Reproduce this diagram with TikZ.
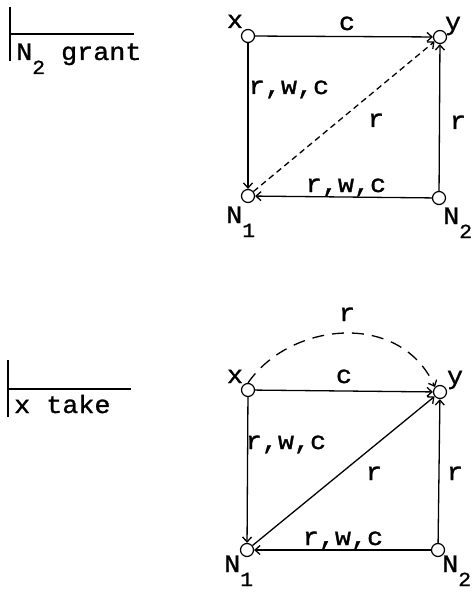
\documentclass[tikz,border=0pt]{standalone}
\usepackage{fontspec}
\newfontfamily\diagmono{Liberation Mono}[FakeBold=1.2, FakeStretch=1.07]
\usepackage{tikz}
\usetikzlibrary{arrows.meta}
\newcommand{\diagfont}{\diagmono\fontsize{25bp}{30bp}\selectfont}
\newcommand{\lowsub}[1]{\raisebox{-14bp}{\fontsize{20bp}{20bp}\selectfont #1}}
\tikzset{
  vtx/.style={circle, draw, line width=1.2bp, minimum size=13bp, inner sep=0pt, fill=white},
  lbl/.style={font=\diagfont, inner sep=0pt, anchor=base},
  lblw/.style={lbl, anchor=base west},
  edge/.style={line width=1.3bp, -{Straight Barb[length=5bp,width=9bp]}},
  dashedge/.style={edge, dash pattern=on 6bp off 4bp},
  arcedge/.style={edge, dash pattern=on 12bp off 8bp},
}

\begin{document}
\begin{tikzpicture}[x=1bp, y=-1bp]
\useasboundingbox (0,0) rectangle (474,592);

% N2 grant
\draw[line width=1.3bp] (10,7)--(10,61) (10,34)--(134,34);
\node[lblw] (grule) at (16,60) {N\lowsub{2} grant};

\node[vtx] (gx) at (248,36) {};
\node[vtx] (gy) at (440,37) {};
\node[vtx] (gn1) at (248,196) {};
\node[vtx] (gn2) at (439,198) {};

\draw[edge] (gx)--(gy);
\draw[edge] (gx)--(gn1);
\draw[edge] (gn2)--(gn1);
\draw[edge] (gn2)--(gy);
\draw[dashedge] (gn1)--(gy);

\node[lbl] (gxl) at (235,28) {x};
\node[lbl] (gyl) at (453,30) {y};
\node[lbl] (gc) at (347,30) {c};
\node[lbl] (grwc) at (289,94) {r,w,c};
\node[lbl] (grd) at (376,127) {r};
\node[lbl] (grr) at (458,129) {r};
\node[lbl] (grwcb) at (346,192) {r,w,c};
\node[lblw] (gn1l) at (226,223) {N\lowsub{1}};
\node[lblw] (gn2l) at (443,224) {N\lowsub{2}};

% x take
\draw[line width=1.3bp] (8,360)--(8,417) (8,389)--(131,389);
\node[lblw] (trule) at (14,413) {x take};

\node[vtx] (tx) at (248,390) {};
\node[vtx] (ty) at (440,392) {};
\node[vtx] (tn1) at (247,550) {};
\node[vtx] (tn2) at (438,550) {};

\draw[edge] (tx)--(ty);
\draw[edge] (tx)--(tn1);
\draw[edge] (tn2)--(tn1);
\draw[edge] (tn2)--(ty);
\draw[edge] (tn1)--(ty);
\draw[arcedge] (tx.north) .. controls (290,322) and (400,310) .. (ty.north west);

\node[lbl] (tra) at (347,321) {r};
\node[lbl] (txl) at (235,383) {x};
\node[lbl] (tyl) at (455,384) {y};
\node[lbl] (tc) at (344,383) {c};
\node[lbl] (trwc) at (286,449) {r,w,c};
\node[lbl] (trd) at (374,480) {r};
\node[lbl] (trr) at (455,480) {r};
\node[lbl] (trwcb) at (343,545) {r,w,c};
\node[lblw] (tn1l) at (224,572) {N\lowsub{1}};
\node[lblw] (tn2l) at (442,572) {N\lowsub{2}};
\end{tikzpicture}
\end{document}
